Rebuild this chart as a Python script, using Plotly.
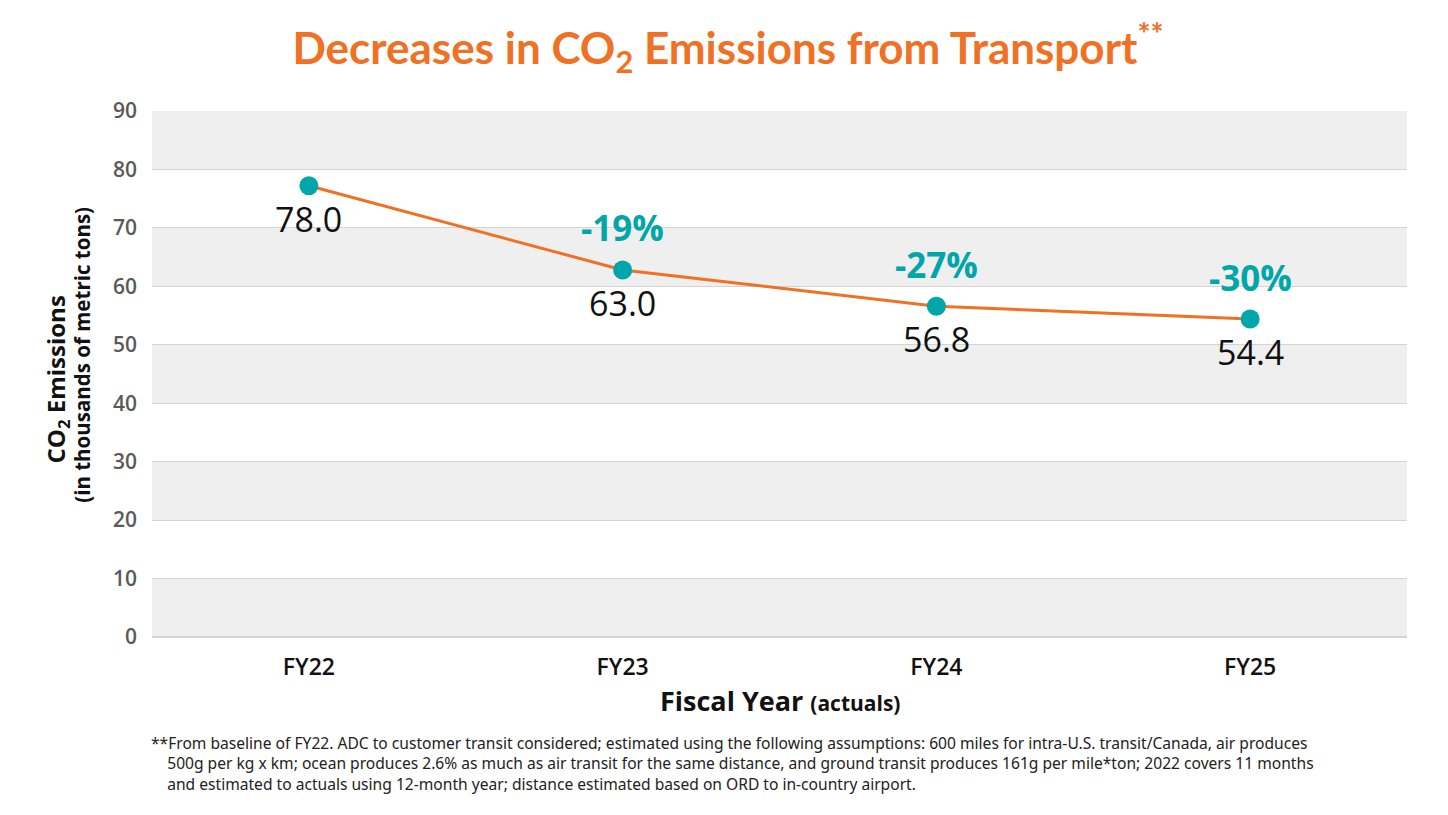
import plotly.graph_objects as go

# data
years = ["FY22", "FY23", "FY24", "FY25"]
emissions = [77.2, 62.8, 56.6, 54.4]          # plotted positions
value_labels = ["78.0", "63.0", "56.8", "54.4"]
pct_labels = ["", "-19%", "-27%", "-30%"]
y_ticks = [0, 10, 20, 30, 40, 50, 60, 70, 80, 90]
footnote = [
    "**From baseline of FY22. ADC to customer transit considered; estimated using the following assumptions: 600 miles for intra-U.S. transit/Canada, air produces",
    "&nbsp;&nbsp;&nbsp;&nbsp;500g per kg x km; ocean produces 2.6% as much as air transit for the same distance, and ground transit produces 161g per mile*ton; 2022 covers 11 months",
    "&nbsp;&nbsp;&nbsp;&nbsp;and estimated to actuals using 12-month year; distance estimated based on ORD to in-country airport.",
]

orange = "#F07024"
teal = "#00A6A9"
band = "#EFEFEF"

fig = go.Figure()

fig.add_trace(go.Scatter(
    x=years, y=emissions, mode="lines+markers",
    line=dict(color=orange, width=3),
    marker=dict(color=teal, size=19),
    hoverinfo="skip", showlegend=False,
))

# alternating grey bands, starting from the bottom
for i in range(0, len(y_ticks) - 1, 2):
    fig.add_shape(type="rect", xref="paper", yref="y", x0=0, x1=1,
                  y0=y_ticks[i], y1=y_ticks[i + 1],
                  fillcolor=band, line_width=0, layer="below")

# labels under / over each point
for yr, val, vl, pl in zip(years, emissions, value_labels, pct_labels):
    fig.add_annotation(x=yr, y=val, text=vl, showarrow=False, yshift=-33,
                       font=dict(family="Open Sans", size=34, color="#111111"))
    if pl:
        fig.add_annotation(x=yr, y=val, text=pl, showarrow=False, yshift=42,
                           font=dict(family="Open Sans", size=35, color=teal, weight=700))

# y axis title, two lines
fig.add_annotation(
    xref="paper", yref="paper", x=-0.0755, y=0.49, textangle=-90,
    xanchor="center", yanchor="middle",
    text="<b>CO<sub>2</sub> Emissions</b>",
    showarrow=False, font=dict(family="Open Sans", size=24, color="#111111"),
)
fig.add_annotation(
    xref="paper", yref="paper", x=-0.056, y=0.536, textangle=-90,
    xanchor="center", yanchor="middle",
    text="<b>(in thousands of metric tons)</b>",
    showarrow=False, font=dict(family="Open Sans", size=20.5, color="#111111"),
)

fig.add_annotation(
    xref="paper", yref="paper", x=0.5, y=0, yshift=-63, xanchor="center", yanchor="middle",
    text="<b>Fiscal Year <span style='font-size:21px'>(actuals)</span></b>",
    showarrow=False, font=dict(family="Open Sans", size=27, color="#111111"),
)

fig.add_annotation(
    xref="paper", yref="paper", x=-0.002, y=0, yshift=-126,
    xanchor="left", yanchor="middle", align="left",
    text="<br>".join(footnote), showarrow=False,
    font=dict(family="Noto Sans", size=15.6, color="#222222"),
)

fig.update_xaxes(
    range=[-0.5, 3.5], showgrid=False, showline=False, ticks="", ticklabelstandoff=14,
    tickfont=dict(family="Open Sans", size=23, color="#111111", weight=600),
)
fig.update_yaxes(
    range=[0, 90], tickvals=y_ticks, showgrid=True, gridcolor="#D4D4D4", gridwidth=1,
    zeroline=True, zerolinecolor="#D4D4D4", ticks="", ticklabelstandoff=14,
    tickfont=dict(family="Open Sans", size=21, color="#595959", weight=600),
)

fig.update_layout(
    width=1440, height=807,
    margin=dict(l=144, r=41, t=103, b=178),
    plot_bgcolor="white", paper_bgcolor="white",
    title=dict(
        text="<b>Decreases in CO<sub>2</sub> Emissions from Transport<sup>**</sup></b>",
        x=0.5, xref="container", xanchor="center",
        y=0.95, yref="container", yanchor="middle",
        font=dict(family="Lato", size=44, color=orange),
    ),
)

fig.write_html("out.html")
